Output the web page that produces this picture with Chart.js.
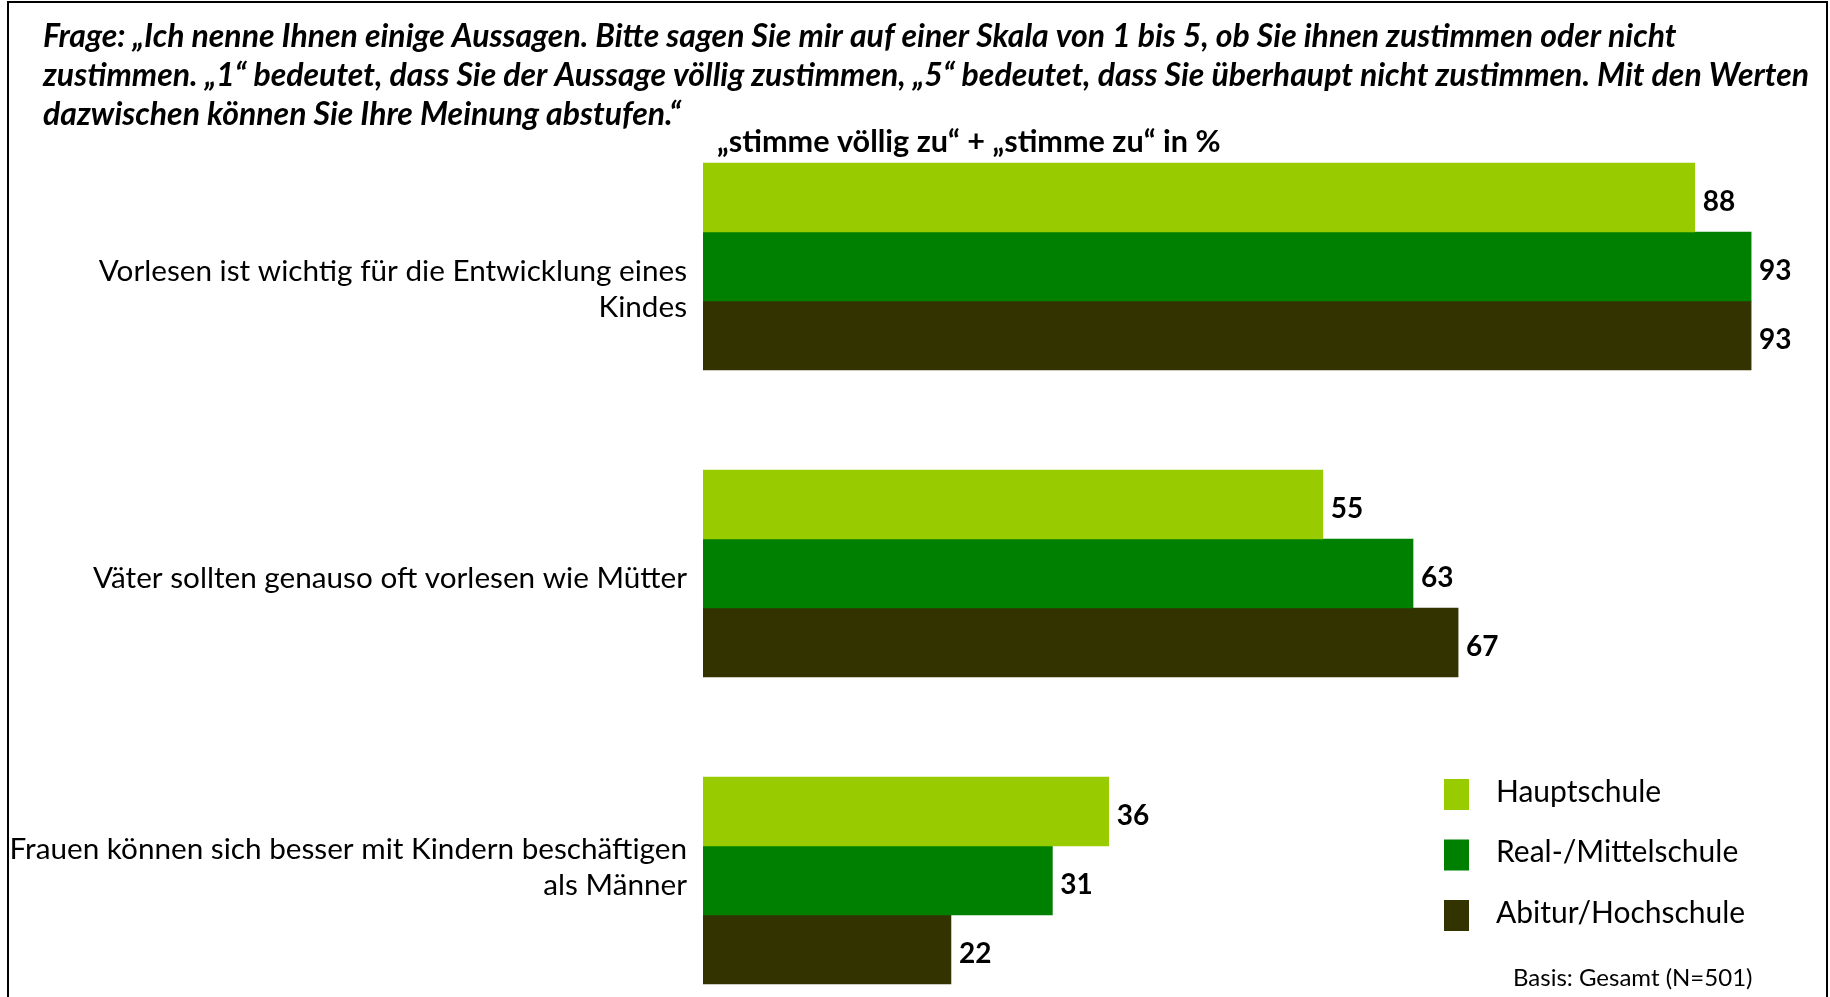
<!DOCTYPE html>
<html><head><meta charset="utf-8">
<script src="https://cdn.jsdelivr.net/npm/chart.js@4.4.1/dist/chart.umd.min.js"></script>
<style>
html,body{margin:0;padding:0;overflow:hidden;background:#fff;}
#wrap{position:relative;width:1830px;height:997px;overflow:hidden;background:#fff;}
canvas{display:block;}
</style></head><body>
<div id="wrap"><canvas id="c" width="1830" height="1034"></canvas></div>
<script>
// ---- text & data ----
const questionLines = [
  'Frage: „Ich nenne Ihnen einige Aussagen. Bitte sagen Sie mir auf einer Skala von 1 bis 5, ob Sie ihnen zustimmen oder nicht',
  'zustimmen. „1“ bedeutet, dass Sie der Aussage völlig zustimmen, „5“ bedeutet, dass Sie überhaupt nicht zustimmen. Mit den Werten',
  'dazwischen können Sie Ihre Meinung abstufen.“'
];
const subtitleText = '„stimme völlig zu“ + „stimme zu“ in %';
const footnoteText = 'Basis: Gesamt (N=501)';
const categories = [
  ['Vorlesen ist wichtig für die Entwicklung eines', 'Kindes'],
  ['Väter sollten genauso oft vorlesen wie Mütter'],
  ['Frauen können sich besser mit Kindern beschäftigen', 'als Männer']
];
const seriesNames = ['Hauptschule', 'Real-/Mittelschule', 'Abitur/Hochschule'];
const hauptschule = [88, 55, 36];
const realMittelschule = [93, 63, 31];
const abiturHochschule = [93, 67, 22];

// ---- styles ----
const colors = ['#99CC00', '#008000', '#333300'];
const FONT = 'Lato';
const labelPadMode = ['before', 'none', 'after'];

const framePlugin = {
  id: 'frame',
  afterDraw(chart) {
    const ctx = chart.ctx;
    ctx.save();
    ctx.strokeStyle = '#000';
    ctx.lineWidth = 2;
    ctx.beginPath();
    ctx.moveTo(8, 1200); ctx.lineTo(8, 2); ctx.lineTo(1827, 2); ctx.lineTo(1827, 1200);
    ctx.stroke();
    ctx.restore();
  }
};

const textPlugin = {
  id: 'texts',
  afterDraw(chart) {
    const ctx = chart.ctx;
    ctx.save();
    ctx.fillStyle = '#000';
    ctx.textBaseline = 'alphabetic';
    ctx.textAlign = 'left';
    ctx.font = 'italic bold 32px ' + FONT;
    questionLines.forEach((t, i) => ctx.fillText(t, 43, 47 + i * 39));
    ctx.font = 'bold 30.6px ' + FONT;
    ctx.fillText(subtitleText, 717, 152);
    ctx.font = '24px ' + FONT;
    ctx.fillText(footnoteText, 1513, 986);
    // legend
    ctx.textBaseline = 'middle';
    ctx.font = '30px ' + FONT;
    chart.data.datasets.forEach((ds, i) => {
      const top = 779 + i * 60.5;
      ctx.fillStyle = ds.backgroundColor;
      ctx.fillRect(1444, top, 25, 31);
      ctx.fillStyle = '#000';
      ctx.fillText(ds.label, 1496, top + 13);
    });
    ctx.restore();
  }
};

const valueLabelPlugin = {
  id: 'valueLabels',
  afterDatasetsDraw(chart) {
    const ctx = chart.ctx;
    ctx.save();
    ctx.fillStyle = '#000';
    ctx.font = 'bold 28px ' + FONT;
    ctx.textBaseline = 'middle';
    ctx.textAlign = 'left';
    chart.data.datasets.forEach((ds, di) => {
      chart.getDatasetMeta(di).data.forEach((bar, i) => {
        ctx.fillText(String(ds.data[i]), bar.x + 8, bar.y + 4);
      });
    });
    ctx.restore();
  }
};

function start() {
  new Chart(document.getElementById('c'), {
    type: 'bar',
    data: {
      labels: categories,
      datasets: [
        { label: seriesNames[0], data: hauptschule, backgroundColor: colors[0] },
        { label: seriesNames[1], data: realMittelschule, backgroundColor: colors[1] },
        { label: seriesNames[2], data: abiturHochschule, backgroundColor: colors[2] }
      ]
    },
    options: {
      indexAxis: 'y',
      responsive: false,
      animation: false,
      devicePixelRatio: 1,
      layout: { padding: { top: 113, left: 0, right: 0, bottom: 0 } },
      datasets: { bar: { barThickness: 69, borderWidth: 0 } },
      plugins: { legend: { display: false }, title: { display: false }, tooltip: { enabled: false } },
      scales: {
        x: { type: 'linear', display: false, min: 0, max: 100 },
        y: {
          grid: { display: false, drawTicks: false },
          border: { display: false },
          afterFit(scale) { scale.width = 703; scale.paddingTop = 0; scale.paddingBottom = 0; },
          ticks: {
            autoSkip: false,
            padding: 16,
            labelOffset: 5,
            color: '#000',
            font: { family: FONT, size: 29.7, lineHeight: '36px' },
            callback: function (value, index) {
              const lines = [].concat(this.getLabelForValue(value));
              if (labelPadMode[index] === 'before') return [''].concat(lines);
              if (labelPadMode[index] === 'after') return lines.concat(['']);
              return lines;
            }
          }
        }
      }
    },
    plugins: [framePlugin, textPlugin, valueLabelPlugin]
  });
}

const fontLoads = ['30px Lato', 'bold 28px Lato', 'italic bold 32px Lato'].map(f => document.fonts.load(f).catch(() => null));
Promise.all(fontLoads).then(start, start);
</script>
</body></html>
